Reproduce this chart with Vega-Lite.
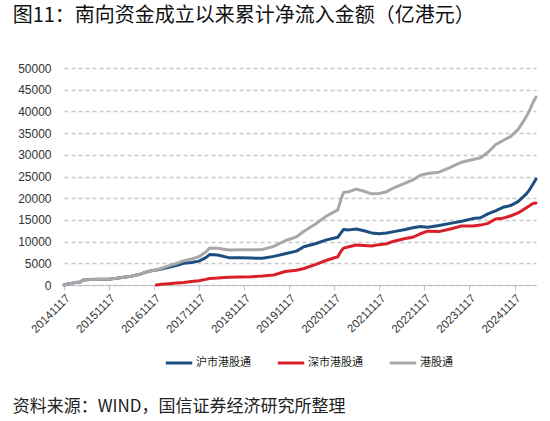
{
  "$schema": "https://vega.github.io/schema/vega-lite/v6.json",
  "background": "white",
  "padding": {"left": 12, "top": 6, "right": 8, "bottom": 4},
  "title": {
    "text": "资料来源：WIND，国信证券经济研究所整理",
    "orient": "bottom",
    "anchor": "start",
    "font": "Noto Sans CJK SC",
    "fontSize": 17,
    "fontWeight": "normal",
    "color": "#222222",
    "offset": 30
  },
  "vconcat": [
    {
      "title": {
        "text": "图11：南向资金成立以来累计净流入金额（亿港元）",
        "anchor": "start",
        "font": "Noto Sans CJK SC",
        "fontSize": 20,
        "fontWeight": "normal",
        "color": "#111111",
        "offset": 36,
        "dx": -5
      },
      "width": 472,
      "height": 217,
      "data": {
        "values": [
          {"d": "2014-11-17", "s": "沪市港股通", "v": 0},
          {"d": "2014-12-15", "s": "沪市港股通", "v": 250},
          {"d": "2015-01-15", "s": "沪市港股通", "v": 350},
          {"d": "2015-02-15", "s": "沪市港股通", "v": 600},
          {"d": "2015-04-01", "s": "沪市港股通", "v": 700},
          {"d": "2015-04-15", "s": "沪市港股通", "v": 1100},
          {"d": "2015-06-15", "s": "沪市港股通", "v": 1250},
          {"d": "2015-09-15", "s": "沪市港股通", "v": 1300},
          {"d": "2015-11-15", "s": "沪市港股通", "v": 1350},
          {"d": "2016-01-15", "s": "沪市港股通", "v": 1550},
          {"d": "2016-03-15", "s": "沪市港股通", "v": 1800},
          {"d": "2016-05-15", "s": "沪市港股通", "v": 2000},
          {"d": "2016-07-15", "s": "沪市港股通", "v": 2400},
          {"d": "2016-09-15", "s": "沪市港股通", "v": 3000},
          {"d": "2016-11-15", "s": "沪市港股通", "v": 3400},
          {"d": "2016-12-05", "s": "沪市港股通", "v": 3450},
          {"d": "2017-01-15", "s": "沪市港股通", "v": 3700},
          {"d": "2017-03-15", "s": "沪市港股通", "v": 4100},
          {"d": "2017-05-15", "s": "沪市港股通", "v": 4500},
          {"d": "2017-07-15", "s": "沪市港股通", "v": 5000},
          {"d": "2017-09-15", "s": "沪市港股通", "v": 5200},
          {"d": "2017-11-15", "s": "沪市港股通", "v": 5500},
          {"d": "2018-01-10", "s": "沪市港股通", "v": 6300},
          {"d": "2018-02-10", "s": "沪市港股通", "v": 7000},
          {"d": "2018-04-15", "s": "沪市港股通", "v": 6900},
          {"d": "2018-07-15", "s": "沪市港股通", "v": 6300},
          {"d": "2018-10-15", "s": "沪市港股通", "v": 6300},
          {"d": "2019-01-15", "s": "沪市港股通", "v": 6200},
          {"d": "2019-04-15", "s": "沪市港股通", "v": 6150},
          {"d": "2019-07-15", "s": "沪市港股通", "v": 6600},
          {"d": "2019-10-15", "s": "沪市港股通", "v": 7200},
          {"d": "2020-01-15", "s": "沪市港股通", "v": 7800},
          {"d": "2020-03-15", "s": "沪市港股通", "v": 8800},
          {"d": "2020-06-15", "s": "沪市港股通", "v": 9500},
          {"d": "2020-09-15", "s": "沪市港股通", "v": 10400},
          {"d": "2020-12-15", "s": "沪市港股通", "v": 11000},
          {"d": "2021-01-10", "s": "沪市港股通", "v": 12000},
          {"d": "2021-01-31", "s": "沪市港股通", "v": 12800},
          {"d": "2021-03-15", "s": "沪市港股通", "v": 12700},
          {"d": "2021-05-15", "s": "沪市港股通", "v": 12900},
          {"d": "2021-07-15", "s": "沪市港股通", "v": 12500},
          {"d": "2021-09-15", "s": "沪市港股通", "v": 12000},
          {"d": "2021-11-15", "s": "沪市港股通", "v": 11800},
          {"d": "2022-01-15", "s": "沪市港股通", "v": 12000},
          {"d": "2022-03-15", "s": "沪市港股通", "v": 12300},
          {"d": "2022-06-15", "s": "沪市港股通", "v": 12800},
          {"d": "2022-08-15", "s": "沪市港股通", "v": 13200},
          {"d": "2022-10-15", "s": "沪市港股通", "v": 13500},
          {"d": "2022-12-15", "s": "沪市港股通", "v": 13300},
          {"d": "2023-03-15", "s": "沪市港股通", "v": 13700},
          {"d": "2023-06-15", "s": "沪市港股通", "v": 14200},
          {"d": "2023-09-15", "s": "沪市港股通", "v": 14700},
          {"d": "2023-12-15", "s": "沪市港股通", "v": 15300},
          {"d": "2024-02-15", "s": "沪市港股通", "v": 15500},
          {"d": "2024-04-15", "s": "沪市港股通", "v": 16400},
          {"d": "2024-06-15", "s": "沪市港股通", "v": 17100},
          {"d": "2024-08-15", "s": "沪市港股通", "v": 17900},
          {"d": "2024-10-15", "s": "沪市港股通", "v": 18300},
          {"d": "2024-12-15", "s": "沪市港股通", "v": 19200},
          {"d": "2025-02-15", "s": "沪市港股通", "v": 20800},
          {"d": "2025-03-15", "s": "沪市港股通", "v": 21800},
          {"d": "2025-04-15", "s": "沪市港股通", "v": 23200},
          {"d": "2025-05-10", "s": "沪市港股通", "v": 24400},

          {"d": "2016-12-05", "s": "深市港股通", "v": 0},
          {"d": "2017-01-15", "s": "深市港股通", "v": 150},
          {"d": "2017-03-15", "s": "深市港股通", "v": 300},
          {"d": "2017-05-15", "s": "深市港股通", "v": 450},
          {"d": "2017-07-15", "s": "深市港股通", "v": 600},
          {"d": "2017-09-15", "s": "深市港股通", "v": 800},
          {"d": "2017-11-15", "s": "深市港股通", "v": 1000},
          {"d": "2018-01-10", "s": "深市港股通", "v": 1300},
          {"d": "2018-02-10", "s": "深市港股通", "v": 1500},
          {"d": "2018-04-15", "s": "深市港股通", "v": 1600},
          {"d": "2018-07-15", "s": "深市港股通", "v": 1800},
          {"d": "2018-10-15", "s": "深市港股通", "v": 1850},
          {"d": "2019-01-15", "s": "深市港股通", "v": 1900},
          {"d": "2019-04-15", "s": "深市港股通", "v": 2050},
          {"d": "2019-07-15", "s": "深市港股通", "v": 2300},
          {"d": "2019-10-15", "s": "深市港股通", "v": 3100},
          {"d": "2020-01-15", "s": "深市港股通", "v": 3400},
          {"d": "2020-03-15", "s": "深市港股通", "v": 3800},
          {"d": "2020-06-15", "s": "深市港股通", "v": 4700},
          {"d": "2020-09-15", "s": "深市港股通", "v": 5700},
          {"d": "2020-12-15", "s": "深市港股通", "v": 6500},
          {"d": "2021-01-10", "s": "深市港股通", "v": 7800},
          {"d": "2021-01-31", "s": "深市港股通", "v": 8500},
          {"d": "2021-03-15", "s": "深市港股通", "v": 8800},
          {"d": "2021-05-15", "s": "深市港股通", "v": 9200},
          {"d": "2021-07-15", "s": "深市港股通", "v": 9100},
          {"d": "2021-09-15", "s": "深市港股通", "v": 9000},
          {"d": "2021-11-15", "s": "深市港股通", "v": 9300},
          {"d": "2022-01-15", "s": "深市港股通", "v": 9500},
          {"d": "2022-03-15", "s": "深市港股通", "v": 10100},
          {"d": "2022-06-15", "s": "深市港股通", "v": 10700},
          {"d": "2022-08-15", "s": "深市港股通", "v": 11000},
          {"d": "2022-10-15", "s": "深市港股通", "v": 11800},
          {"d": "2022-12-15", "s": "深市港股通", "v": 12400},
          {"d": "2023-03-15", "s": "深市港股通", "v": 12300},
          {"d": "2023-06-15", "s": "深市港股通", "v": 12900},
          {"d": "2023-09-15", "s": "深市港股通", "v": 13600},
          {"d": "2023-12-15", "s": "深市港股通", "v": 13600},
          {"d": "2024-02-15", "s": "深市港股通", "v": 13800},
          {"d": "2024-04-15", "s": "深市港股通", "v": 14200},
          {"d": "2024-06-15", "s": "深市港股通", "v": 15200},
          {"d": "2024-08-15", "s": "深市港股通", "v": 15400},
          {"d": "2024-10-15", "s": "深市港股通", "v": 15900},
          {"d": "2024-12-15", "s": "深市港股通", "v": 16600},
          {"d": "2025-02-15", "s": "深市港股通", "v": 17700},
          {"d": "2025-03-15", "s": "深市港股通", "v": 18200},
          {"d": "2025-04-15", "s": "深市港股通", "v": 18800},
          {"d": "2025-05-10", "s": "深市港股通", "v": 18900},

          {"d": "2014-11-17", "s": "港股通", "v": 0},
          {"d": "2014-12-15", "s": "港股通", "v": 250},
          {"d": "2015-01-15", "s": "港股通", "v": 350},
          {"d": "2015-02-15", "s": "港股通", "v": 600},
          {"d": "2015-04-01", "s": "港股通", "v": 700},
          {"d": "2015-04-15", "s": "港股通", "v": 1100},
          {"d": "2015-06-15", "s": "港股通", "v": 1250},
          {"d": "2015-09-15", "s": "港股通", "v": 1300},
          {"d": "2015-11-15", "s": "港股通", "v": 1350},
          {"d": "2016-01-15", "s": "港股通", "v": 1550},
          {"d": "2016-03-15", "s": "港股通", "v": 1800},
          {"d": "2016-05-15", "s": "港股通", "v": 2000},
          {"d": "2016-07-15", "s": "港股通", "v": 2400},
          {"d": "2016-09-15", "s": "港股通", "v": 3000},
          {"d": "2016-11-15", "s": "港股通", "v": 3400},
          {"d": "2016-12-05", "s": "港股通", "v": 3450},
          {"d": "2017-01-15", "s": "港股通", "v": 3850},
          {"d": "2017-03-15", "s": "港股通", "v": 4400},
          {"d": "2017-05-15", "s": "港股通", "v": 4950},
          {"d": "2017-07-15", "s": "港股通", "v": 5600},
          {"d": "2017-09-15", "s": "港股通", "v": 6000},
          {"d": "2017-11-15", "s": "港股通", "v": 6500},
          {"d": "2018-01-10", "s": "港股通", "v": 7600},
          {"d": "2018-02-10", "s": "港股通", "v": 8500},
          {"d": "2018-04-15", "s": "港股通", "v": 8450},
          {"d": "2018-07-15", "s": "港股通", "v": 8050},
          {"d": "2018-10-15", "s": "港股通", "v": 8100},
          {"d": "2019-01-15", "s": "港股通", "v": 8100},
          {"d": "2019-04-15", "s": "港股通", "v": 8200},
          {"d": "2019-07-15", "s": "港股通", "v": 8900},
          {"d": "2019-10-15", "s": "港股通", "v": 10200},
          {"d": "2020-01-15", "s": "港股通", "v": 11100},
          {"d": "2020-03-15", "s": "港股通", "v": 12400},
          {"d": "2020-06-15", "s": "港股通", "v": 14000},
          {"d": "2020-09-15", "s": "港股通", "v": 15900},
          {"d": "2020-12-15", "s": "港股通", "v": 17300},
          {"d": "2021-01-10", "s": "港股通", "v": 19800},
          {"d": "2021-01-31", "s": "港股通", "v": 21300},
          {"d": "2021-03-15", "s": "港股通", "v": 21500},
          {"d": "2021-05-15", "s": "港股通", "v": 22100},
          {"d": "2021-07-15", "s": "港股通", "v": 21600},
          {"d": "2021-09-15", "s": "港股通", "v": 21000},
          {"d": "2021-11-15", "s": "港股通", "v": 21100},
          {"d": "2022-01-15", "s": "港股通", "v": 21500},
          {"d": "2022-03-15", "s": "港股通", "v": 22400},
          {"d": "2022-06-15", "s": "港股通", "v": 23500},
          {"d": "2022-08-15", "s": "港股通", "v": 24200},
          {"d": "2022-10-15", "s": "港股通", "v": 25300},
          {"d": "2022-12-15", "s": "港股通", "v": 25700},
          {"d": "2023-03-15", "s": "港股通", "v": 26000},
          {"d": "2023-06-15", "s": "港股通", "v": 27100},
          {"d": "2023-09-15", "s": "港股通", "v": 28300},
          {"d": "2023-12-15", "s": "港股通", "v": 28900},
          {"d": "2024-02-15", "s": "港股通", "v": 29300},
          {"d": "2024-04-15", "s": "港股通", "v": 30600},
          {"d": "2024-06-15", "s": "港股通", "v": 32300},
          {"d": "2024-08-15", "s": "港股通", "v": 33300},
          {"d": "2024-10-15", "s": "港股通", "v": 34200},
          {"d": "2024-12-15", "s": "港股通", "v": 35800},
          {"d": "2025-02-15", "s": "港股通", "v": 38500},
          {"d": "2025-03-15", "s": "港股通", "v": 40000},
          {"d": "2025-04-15", "s": "港股通", "v": 42000},
          {"d": "2025-05-10", "s": "港股通", "v": 43300}
        ]
      },
      "mark": {"type": "line", "strokeWidth": 3, "strokeJoin": "round", "strokeCap": "round"},
      "encoding": {
        "x": {
          "field": "d",
          "type": "temporal",
          "scale": {"domain": ["2014-11-17", "2025-05-10"], "nice": false},
          "axis": {
            "title": null,
            "format": "%Y%m%d",
            "values": [
              {"year": 2014, "month": 11, "date": 17},
              {"year": 2015, "month": 11, "date": 17},
              {"year": 2016, "month": 11, "date": 17},
              {"year": 2017, "month": 11, "date": 17},
              {"year": 2018, "month": 11, "date": 17},
              {"year": 2019, "month": 11, "date": 17},
              {"year": 2020, "month": 11, "date": 17},
              {"year": 2021, "month": 11, "date": 17},
              {"year": 2022, "month": 11, "date": 17},
              {"year": 2023, "month": 11, "date": 17},
              {"year": 2024, "month": 11, "date": 17}
            ],
            "labelAngle": -45,
            "labelFont": "Liberation Sans",
            "labelFontSize": 11.5,
            "labelColor": "#333333",
            "labelPadding": 2,
            "labelOverlap": false,
            "domainColor": "#c0c0c0",
            "tickColor": "#c0c0c0",
            "tickSize": 5,
            "grid": false
          }
        },
        "y": {
          "field": "v",
          "type": "quantitative",
          "scale": {"domain": [0, 50000], "nice": false},
          "axis": {
            "title": null,
            "values": [0, 5000, 10000, 15000, 20000, 25000, 30000, 35000, 40000, 45000, 50000],
            "format": "d",
            "domain": false,
            "ticks": false,
            "labelPadding": 13,
            "labelFont": "Liberation Sans",
            "labelFontSize": 12,
            "labelColor": "#333333",
            "grid": true,
            "gridColor": "#c8c8c8",
            "gridDash": [4, 3],
            "gridWidth": 1.3
          }
        },
        "color": {
          "field": "s",
          "type": "nominal",
          "scale": {
            "domain": ["沪市港股通", "深市港股通", "港股通"],
            "range": ["#1c4f80", "#d9202a", "#a8a8a8"]
          },
          "legend": {
            "title": null,
            "orient": "none",
            "legendX": 100,
            "legendY": 280,
            "direction": "horizontal",
            "symbolType": "stroke",
            "symbolSize": 700,
            "symbolStrokeWidth": 3,
            "labelFont": "Noto Sans CJK SC",
            "labelFontSize": 11,
            "labelColor": "#222222",
            "labelOffset": 2,
            "columnPadding": 20
          }
        }
      }
    }
  ],
  "config": {
    "view": {"stroke": null}
  }
}
